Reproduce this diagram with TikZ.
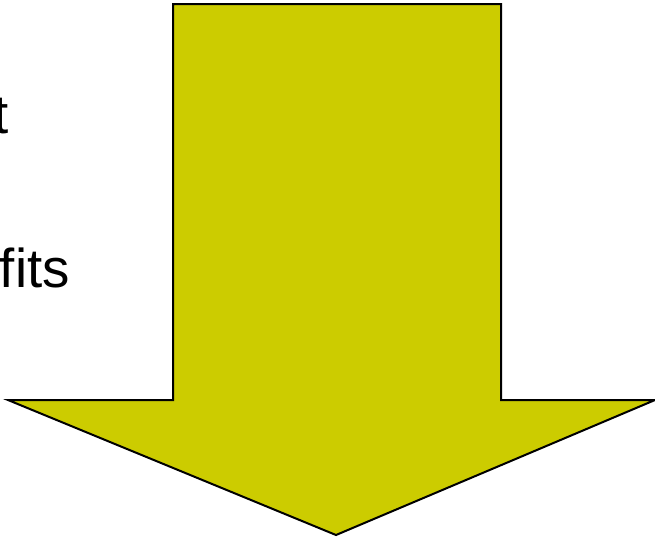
\documentclass[tikz,border=0pt]{standalone}
\usepackage{fontspec}
\setmainfont{Liberation Sans}
\usetikzlibrary{positioning}
\definecolor{arrowfill}{HTML}{CCCC00}
\definecolor{inkblack}{HTML}{000000}
\tikzset{
  bigarrow/.style={draw=inkblack, line width=1.5pt, fill=arrowfill, line join=miter},
  wordpart/.style={inner sep=0pt, text=inkblack, font=\fontsize{41}{49}\selectfont}}

\begin{document}
\begin{tikzpicture}[x=0.75pt, y=-0.75pt]
        \useasboundingbox (0,0) rectangle (655,537);
        % the cropped words on the left
        \node[wordpart, anchor=base east] (wordone) at (8.5,133) {t};
        \node[wordpart, anchor=base east] (wordtwo) at (70,287) {fits};
        % the big down arrow
        \draw[bigarrow] (173,4) -- (501,4) -- (501,400) -- (655,400)
          -- (336,535) -- (8,400) -- (173,400) -- cycle;
      \end{tikzpicture}
\end{document}
